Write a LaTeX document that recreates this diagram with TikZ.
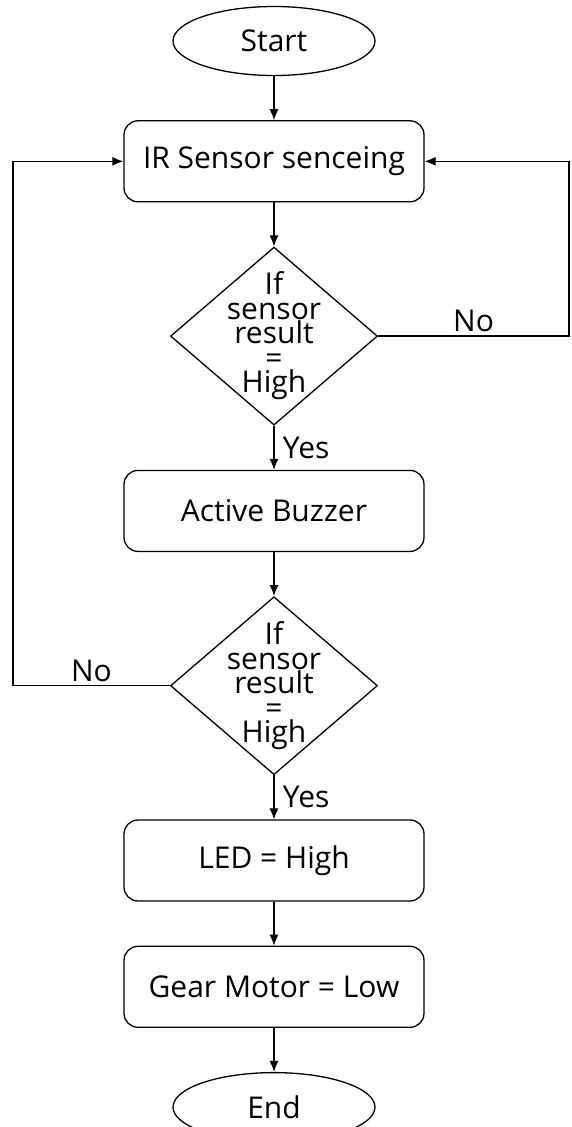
\documentclass[tikz,border=0pt]{standalone}
\usepackage{fontspec}
\setmainfont{Open Sans}
\usetikzlibrary{positioning,shapes.geometric,arrows.meta}

\begin{document}
\begin{tikzpicture}[x=1pt,y=1pt,node distance=44pt,line width=1.3pt]
\tikzset{>={Latex[length=11pt,width=9pt]}}

\tikzstyle{block} = [rectangle, draw, rounded corners=14pt, text centered,
                     minimum width=300pt, minimum height=81pt,
                     font=\fontsize{30}{33}\selectfont]
\tikzstyle{terminal} = [ellipse, draw, minimum width=202pt, minimum height=69pt,
                        font=\fontsize{30}{33}\selectfont]
\tikzstyle{decision} = [diamond, draw, inner sep=0pt,
                        minimum width=207pt, minimum height=178pt]
\tikzstyle{question} = [align=center, inner sep=0pt,
                        font=\fontsize{30}{24.5}\selectfont]
\tikzstyle{answer} = [font=\fontsize{30}{33}\selectfont]

\useasboundingbox (0,0) rectangle (571,-1127);

\node[terminal] (ST) at (274,-41) {Start};
\node[block,below=of ST]    (IR)  {IR Sensor senceing};
\node[decision,below=of IR] (D1)  {};
\node[question] at (D1)     (Q1)  {If\\sensor\\result\\=\\High};
\node[block,below=of D1]    (AB)  {Active Buzzer};
\node[decision,below=of AB] (D2)  {};
\node[question] at (D2)     (Q2)  {If\\sensor\\result\\=\\High};
\node[block,below=of D2]    (LED) {LED = High};
\node[block,below=of LED]   (GM)  {Gear Motor = Low};
\node[terminal,below=of GM] (EN)  {End};

% loop-back rails
\coordinate (L) at (13,0);
\coordinate (R) at (569,0);

\draw[->] (ST) -- (IR);
\draw[->] (IR) -- (D1);
\draw[->] (D1) -- node[answer,right,xshift=5pt] {Yes} (AB);
\draw[->] (AB) -- (D2);
\draw[->] (D2) -- node[answer,right,xshift=5pt] {Yes} (LED);
\draw[->] (LED) -- (GM);
\draw[->] (GM) -- (EN);

\draw[->] (D1.east) -- node[answer,above] {No} (D1.east -| R) |- (IR.east);
\draw[->] (D2.west) -- node[answer,above] {No} (D2.west -| L) |- (IR.west);

\end{tikzpicture}
\end{document}
